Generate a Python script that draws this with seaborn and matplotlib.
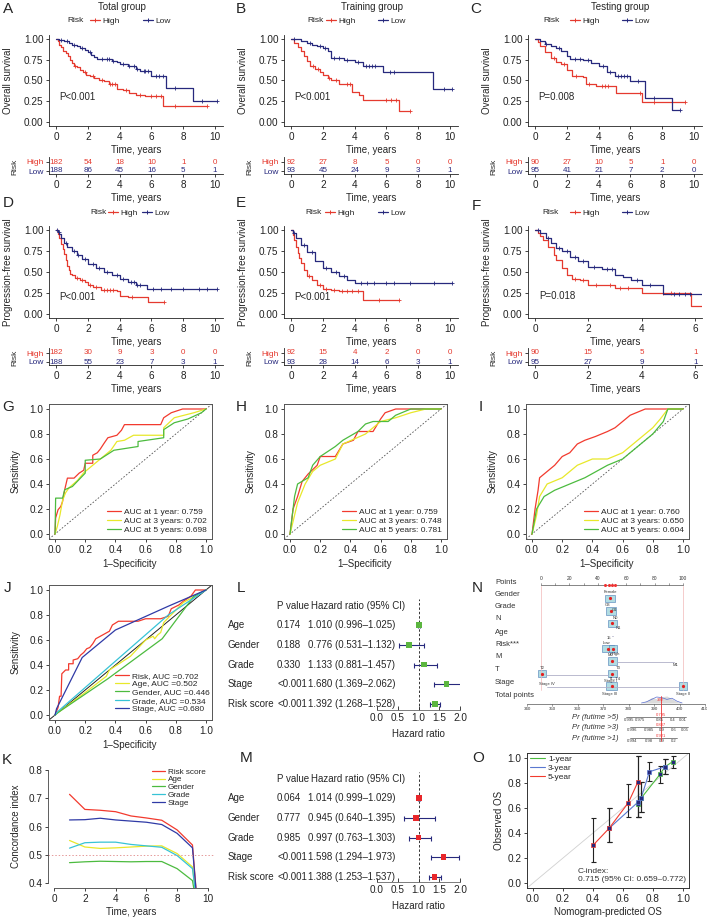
import numpy as np
import matplotlib
matplotlib.use("Agg")
import matplotlib.pyplot as plt
from matplotlib.lines import Line2D
from matplotlib.patches import Rectangle
import seaborn as sns

sns.set_theme(style="white")
plt.rcParams['font.family'] = ['Liberation Sans', 'DejaVu Sans']
plt.rcParams['axes.linewidth'] = 0.6

RED = "#e53a2f"
NAVY = "#27297d"
ROC_RED, ROC_YEL, ROC_GRN = "#f23a2e", "#e8e82a", "#4cbb3f"
CYAN, BLUE = "#37c3d6", "#2f3aa6"

# ---------------- survival curves (time, survival, censor times) ----------------
A_hi_t = [0, 0.1, 0.2, 0.3, 0.45, 0.6, 0.75, 0.9, 1.0, 1.15, 1.3, 1.5, 1.7, 1.9, 2.1, 2.4, 2.7, 3.0, 3.3, 3.8, 4.2, 4.6, 5.0, 5.6, 6.75, 9.5]
A_hi_s = [1.0, 0.97, 0.93, 0.90, 0.86, 0.83, 0.79, 0.75, 0.71, 0.68, 0.66, 0.63, 0.60, 0.57, 0.55, 0.53, 0.51, 0.49, 0.46, 0.40, 0.38, 0.35, 0.33, 0.31, 0.19, 0.19]
A_hi_c = [1.2, 1.8, 2.3, 2.9, 3.4, 3.5, 3.7, 4.4, 5.3, 6.0, 6.3, 6.6, 7.5, 9.5]
A_lo_t = [0, 0.2, 0.5, 0.8, 1.0, 1.3, 1.5, 1.8, 2.0, 2.2, 2.4, 2.6, 3.5, 3.8, 4.0, 4.5, 5.0, 5.3, 6.0, 6.9, 8.6, 10.1]
A_lo_s = [1.0, 0.99, 0.97, 0.95, 0.93, 0.91, 0.89, 0.87, 0.84, 0.81, 0.78, 0.76, 0.74, 0.72, 0.70, 0.67, 0.64, 0.62, 0.55, 0.41, 0.25, 0.25]
A_lo_c = [0.3, 0.7, 1.1, 1.6, 2.1, 2.9, 3.2, 3.3, 3.6, 4.2, 4.6, 4.9, 5.1, 5.5, 5.6, 5.8, 6.3, 6.5, 6.7, 7.5, 9.2, 10.1]

B_hi_t = [0, 0.2, 0.4, 0.6, 0.8, 1.0, 1.2, 1.5, 1.8, 2.0, 2.3, 2.5, 3.0, 3.8, 4.3, 4.5, 6.8, 7.5]
B_hi_s = [1.0, 0.95, 0.90, 0.85, 0.79, 0.74, 0.68, 0.64, 0.60, 0.57, 0.53, 0.50, 0.46, 0.36, 0.32, 0.26, 0.13, 0.13]
B_hi_c = [1.4, 1.7, 2.4, 2.8, 3.5, 3.7, 6.0, 6.3, 6.6, 7.5]
B_lo_t = [0, 0.6, 1.0, 1.3, 1.6, 2.0, 2.3, 2.5, 3.3, 4.0, 4.5, 5.8, 8.9, 10.1]
B_lo_s = [1.0, 0.98, 0.95, 0.93, 0.91, 0.89, 0.86, 0.77, 0.75, 0.72, 0.68, 0.60, 0.40, 0.40]
B_lo_c = [0.2, 1.2, 1.8, 2.1, 2.7, 3.0, 3.5, 4.2, 4.7, 4.9, 5.1, 5.3, 6.2, 6.5, 9.6, 10.1]

C_hi_t = [0, 0.15, 0.3, 0.6, 1.0, 1.3, 1.6, 2.0, 2.3, 3.0, 3.2, 3.8, 5.1, 6.7, 9.4]
C_hi_s = [1.0, 0.96, 0.91, 0.84, 0.77, 0.72, 0.70, 0.63, 0.56, 0.54, 0.46, 0.43, 0.35, 0.24, 0.24]
C_hi_c = [1.2, 1.8, 2.6, 3.4, 4.2, 4.4, 4.6, 6.6, 7.5, 9.4]
C_lo_t = [0, 0.3, 0.6, 1.0, 1.3, 1.6, 2.0, 2.2, 3.0, 3.5, 4.0, 4.5, 5.0, 6.0, 6.9, 8.6, 9.1]
C_lo_s = [1.0, 0.97, 0.94, 0.92, 0.89, 0.86, 0.80, 0.76, 0.75, 0.71, 0.67, 0.60, 0.56, 0.49, 0.29, 0.15, 0.15]
C_lo_c = [0.7, 1.5, 2.5, 2.8, 3.3, 4.3, 4.7, 5.2, 5.4, 5.6, 5.8, 6.5, 7.5, 9.1]

D_hi_t = [0, 0.1, 0.2, 0.3, 0.4, 0.5, 0.6, 0.7, 0.8, 0.9, 1.0, 1.2, 1.5, 1.8, 2.0, 2.3, 2.8, 3.8, 4.0, 4.5, 5.8, 6.8]
D_hi_s = [1.0, 0.95, 0.90, 0.83, 0.77, 0.71, 0.64, 0.57, 0.52, 0.48, 0.46, 0.43, 0.41, 0.38, 0.35, 0.32, 0.29, 0.27, 0.22, 0.20, 0.14, 0.14]
D_hi_c = [1.3, 1.6, 2.1, 2.5, 3.0, 3.2, 3.4, 3.6, 4.8, 6.8]
D_lo_t = [0, 0.1, 0.2, 0.3, 0.5, 0.7, 1.0, 1.3, 1.6, 2.0, 2.5, 3.0, 3.5, 4.0, 4.5, 5.0, 5.7, 10.1]
D_lo_s = [1.0, 0.98, 0.95, 0.90, 0.85, 0.80, 0.75, 0.70, 0.66, 0.60, 0.55, 0.50, 0.46, 0.42, 0.38, 0.34, 0.30, 0.30]
D_lo_c = [0.05, 0.15, 0.6, 1.1, 1.4, 1.8, 2.3, 2.7, 3.2, 3.8, 4.2, 4.7, 4.9, 5.1, 5.3, 6.1, 6.6, 7.2, 8.0, 9.0, 9.5, 10.1]

E_hi_t = [0, 0.1, 0.2, 0.3, 0.4, 0.5, 0.6, 0.8, 1.0, 1.3, 1.6, 2.0, 2.5, 3.0, 4.5, 6.8]
E_hi_s = [1.0, 0.94, 0.88, 0.80, 0.73, 0.67, 0.61, 0.52, 0.45, 0.40, 0.35, 0.30, 0.28, 0.27, 0.17, 0.17]
E_hi_c = [1.1, 1.8, 2.2, 2.7, 3.2, 3.5, 3.8, 4.2, 5.5, 6.8]
E_lo_t = [0, 0.1, 0.3, 0.6, 1.0, 1.5, 2.0, 2.5, 3.0, 3.5, 4.0, 10.1]
E_lo_s = [1.0, 0.97, 0.90, 0.82, 0.74, 0.63, 0.55, 0.50, 0.45, 0.40, 0.37, 0.37]
E_lo_c = [0.2, 0.8, 1.3, 2.2, 2.8, 3.3, 4.4, 4.8, 5.2, 6.0, 6.5, 7.5, 9.0, 10.1]

F_hi_t = [0, 0.1, 0.2, 0.3, 0.5, 0.7, 0.8, 1.0, 1.2, 1.4, 1.7, 2.0, 3.0, 4.0, 5.85, 6.3]
F_hi_s = [1.0, 0.97, 0.93, 0.88, 0.80, 0.70, 0.64, 0.55, 0.47, 0.42, 0.40, 0.35, 0.31, 0.25, 0.10, 0.10]
F_hi_c = [1.5, 1.8, 2.3, 2.8, 3.2, 3.5, 4.8, 5.1]
F_lo_t = [0, 0.2, 0.4, 0.6, 0.8, 1.0, 1.3, 1.6, 2.0, 2.5, 3.0, 3.3, 3.6, 4.0, 4.8, 6.3]
F_lo_s = [1.0, 0.97, 0.90, 0.85, 0.79, 0.75, 0.68, 0.63, 0.56, 0.53, 0.47, 0.44, 0.40, 0.34, 0.24, 0.24]
F_lo_c = [0.1, 0.5, 0.9, 1.2, 1.5, 1.8, 2.2, 2.7, 2.9, 3.8, 4.3, 5.2, 5.4, 5.6, 5.8]

# numbers at risk
risk_times_10 = [0, 2, 4, 6, 8, 10]
risk_times_6 = [0, 2, 4, 6]
A_risk_hi, A_risk_lo = [182, 54, 18, 10, 1, 0], [188, 86, 45, 16, 5, 1]
B_risk_hi, B_risk_lo = [92, 27, 8, 5, 0, 0], [93, 45, 24, 9, 3, 1]
C_risk_hi, C_risk_lo = [90, 27, 10, 5, 1, 0], [95, 41, 21, 7, 2, 0]
D_risk_hi, D_risk_lo = [182, 30, 9, 3, 0, 0], [188, 55, 23, 7, 3, 1]
E_risk_hi, E_risk_lo = [92, 15, 4, 2, 0, 0], [93, 28, 14, 6, 3, 1]
F_risk_hi, F_risk_lo = [90, 15, 5, 1], [95, 27, 9, 1]

# ---------------- time-dependent ROC ----------------
G_1y_x = [0, 0.004, 0.02, 0.038, 0.05, 0.064, 0.082, 0.126, 0.16, 0.19, 0.2, 0.25, 0.25, 0.28, 0.3, 0.325, 0.35, 0.41, 0.44, 0.46, 0.70, 0.72, 0.77, 0.845, 1.0]
G_1y_y = [0, 0.128, 0.194, 0.22, 0.26, 0.354, 0.447, 0.447, 0.487, 0.51, 0.566, 0.566, 0.63, 0.65, 0.68, 0.726, 0.77, 0.79, 0.83, 0.875, 0.875, 0.93, 0.97, 1.0, 1.0]
G_3y_x = [0, 0.015, 0.033, 0.05, 0.07, 0.093, 0.15, 0.19, 0.24, 0.3, 0.37, 0.41, 0.46, 0.52, 0.72, 0.72, 0.79, 0.92, 1.0]
G_3y_y = [0, 0.06, 0.154, 0.27, 0.33, 0.37, 0.43, 0.49, 0.54, 0.6, 0.67, 0.74, 0.75, 0.79, 0.79, 0.85, 0.93, 0.97, 1.0]
G_5y_x = [0, 0.004, 0.05, 0.064, 0.115, 0.2, 0.2, 0.3, 0.39, 0.55, 0.55, 0.72, 0.72, 0.79, 0.88, 0.97, 1.0]
G_5y_y = [0, 0.287, 0.287, 0.354, 0.38, 0.487, 0.59, 0.6, 0.67, 0.70, 0.74, 0.77, 0.835, 0.89, 0.92, 0.97, 1.0]

H_1y_x = [0, 0.01, 0.02, 0.05, 0.08, 0.12, 0.18, 0.2, 0.3, 0.33, 0.35, 0.42, 0.45, 0.55, 0.6, 0.63, 0.7, 1.0]
H_1y_y = [0, 0.1, 0.2, 0.3, 0.42, 0.48, 0.55, 0.62, 0.62, 0.68, 0.72, 0.75, 0.82, 0.82, 0.92, 0.97, 1.0, 1.0]
H_3y_x = [0, 0.03, 0.05, 0.1, 0.15, 0.2, 0.3, 0.35, 0.5, 0.6, 0.7, 0.8, 0.9, 1.0]
H_3y_y = [0, 0.15, 0.25, 0.4, 0.5, 0.55, 0.6, 0.72, 0.8, 0.9, 0.93, 0.97, 1.0, 1.0]
H_5y_x = [0, 0.02, 0.03, 0.05, 0.12, 0.15, 0.2, 0.3, 0.35, 0.45, 0.5, 0.55, 0.65, 0.7, 0.8, 1.0]
H_5y_y = [0, 0.2, 0.3, 0.4, 0.45, 0.55, 0.62, 0.7, 0.75, 0.82, 0.88, 0.9, 0.9, 0.95, 1.0, 1.0]

I_1y_x = [0, 0.02, 0.04, 0.05, 0.1, 0.15, 0.2, 0.25, 0.3, 0.35, 0.42, 0.5, 0.55, 0.6, 0.65, 0.75, 1.0]
I_1y_y = [0, 0.2, 0.35, 0.45, 0.5, 0.55, 0.62, 0.65, 0.72, 0.75, 0.78, 0.82, 0.85, 0.9, 0.95, 1.0, 1.0]
I_3y_x = [0, 0.03, 0.05, 0.1, 0.2, 0.3, 0.4, 0.5, 0.6, 0.7, 0.8, 0.85, 0.9, 1.0]
I_3y_y = [0, 0.15, 0.3, 0.4, 0.45, 0.55, 0.6, 0.6, 0.65, 0.75, 0.85, 0.92, 1.0, 1.0]
I_5y_x = [0, 0.03, 0.08, 0.15, 0.25, 0.35, 0.5, 0.6, 0.7, 0.8, 0.87, 0.9, 1.0]
I_5y_y = [0, 0.2, 0.3, 0.35, 0.4, 0.45, 0.55, 0.6, 0.7, 0.8, 0.9, 1.0, 1.0]

G_auc = ["0.759", "0.702", "0.698"]
H_auc = ["0.759", "0.748", "0.781"]
I_auc = ["0.760", "0.650", "0.604"]

# ---------------- J: ROC of clinical features ----------------
J_risk_x = [0, 0.01, 0.02, 0.03, 0.04, 0.045, 0.07, 0.09, 0.09, 0.12, 0.12, 0.15, 0.17, 0.19, 0.21, 0.23, 0.25, 0.27, 0.30, 0.33, 0.36, 0.38, 0.42, 0.55, 0.60, 0.70, 0.75, 0.77, 0.82, 0.85, 0.90, 0.93, 1.0]
J_risk_y = [0, 0.03, 0.06, 0.15, 0.15, 0.33, 0.36, 0.36, 0.41, 0.41, 0.44, 0.45, 0.48, 0.50, 0.53, 0.54, 0.57, 0.61, 0.63, 0.65, 0.67, 0.72, 0.75, 0.75, 0.77, 0.77, 0.79, 0.85, 0.88, 0.91, 0.95, 1.0, 1.0]
J_age_x = [0, 0.02, 0.2, 0.34, 0.36, 0.5, 0.6, 0.65, 0.66, 0.68, 0.70, 0.72, 0.85, 1.0]
J_age_y = [0, 0.02, 0.18, 0.31, 0.36, 0.47, 0.60, 0.63, 0.61, 0.64, 0.66, 0.74, 0.90, 1.0]
J_gender_x = [0, 0.02, 0.35, 0.71, 0.92, 1.0]
J_gender_y = [0, 0.02, 0.29, 0.61, 0.95, 1.0]
J_grade_x = [0, 0.02, 0.75, 1.0]
J_grade_y = [0, 0.03, 0.80, 1.0]
J_stage_x = [0, 0.01, 0.18, 0.40, 0.75, 1.0]
J_stage_y = [0, 0.05, 0.46, 0.68, 0.87, 1.0]
J_labels = ["Risk, AUC =0.702", "Age, AUC =0.502", "Gender, AUC =0.446",
            "Grade, AUC =0.534", "Stage, AUC =0.680"]

# ---------------- K: C-index over time ----------------
K_time = [1, 2, 3, 4, 5, 6, 7, 8, 9, 9.35]
K_risk = [0.713, 0.660, 0.657, 0.652, 0.637, 0.630, 0.622, 0.588, 0.535, 0.30]
K_age = [0.551, 0.528, 0.523, 0.525, 0.528, 0.531, 0.532, 0.505, 0.458, 0.30]
K_gender = [0.473, 0.476, 0.478, 0.477, 0.476, 0.477, 0.477, 0.452, 0.410, 0.30]
K_grade = [0.524, 0.543, 0.545, 0.545, 0.537, 0.532, 0.527, 0.498, 0.452, 0.30]
K_stage = [0.623, 0.624, 0.629, 0.623, 0.619, 0.615, 0.607, 0.576, 0.525, 0.30]
K_names = ["Risk score", "Age", "Gender", "Grade", "Stage"]

# ---------------- L / M: Cox regression ----------------
cox_vars = ["Age", "Gender", "Grade", "Stage", "Risk score"]
L_p = ["0.174", "0.188", "0.330", "<0.001", "<0.001"]
L_hr = [1.010, 0.776, 1.133, 1.680, 1.392]
L_lo = [0.996, 0.531, 0.881, 1.369, 1.268]
L_hi = [1.025, 1.132, 1.457, 2.062, 1.528]
M_p = ["0.064", "0.777", "0.985", "<0.001", "<0.001"]
M_hr = [1.014, 0.945, 0.997, 1.598, 1.388]
M_lo = [0.999, 0.640, 0.763, 1.294, 1.253]
M_hi = [1.029, 1.395, 1.303, 1.973, 1.537]

# ---------------- N: nomogram ----------------
nomo_rows = ["Points", "Gender", "Grade", "N", "Age", "Risk***", "M", "T", "Stage", "Total points"]
nomo_box_row = [1, 2, 3, 5, 5, 6, 7, 7, 8, 8]
nomo_box_lo = [45, 46, 47, 43, 48, 47, -2, 47, 46, 97.5]
nomo_box_hi = [52, 53, 53.5, 51.5, 53.5, 53.5, 3.5, 53.5, 53.5, 103]
nomo_dot = [48.5, 49.5, 50, 47, 51, 50, 1, 50, 50, 100]
nomo_seg_row = [4.3, 6.4, 7.4, 8.4]
nomo_seg_lo = [50, 53.5, 3.5, 4]
nomo_seg_hi = [50.5, 93.5, 47, 97.5]
nomo_tot_ticks = [340, 350, 360, 370, 380, 390, 400, 410]
nomo_pr5_pos = [380, 384.5, 392.4, 397.1, 401.4]
nomo_pr5_lab = ["0.995", "0.975", "0.85", "0.4", "0.01"]
nomo_pr3_pos = [381.5, 387.8, 392.8, 397.5, 402.2]
nomo_pr3_lab = ["0.996", "0.985", "0.9", "0.6", "0.05"]
nomo_pr1_pos = [381.5, 387.8, 392.8, 397.8]
nomo_pr1_lab = ["0.994", "0.98", "0.9", "0.2"]
nomo_pred = ["0.795", "0.887", "0.921"]
nomo_total = 392.5
nomo_dens_x = [385, 387, 389, 391, 393, 395, 397, 399, 401]
nomo_dens_y = [0.0, 0.3, 0.8, 0.6, 0.9, 1.0, 0.6, 0.2, 0.0]

# ---------------- O: calibration ----------------
O_1y_x = [0.698, 0.72, 0.847, 0.88, 0.93]
O_1y_y = [0.63, 0.677, 0.87, 0.93, 0.97]
O_1y_lo = [0.53, 0.566, 0.80, 0.87, 0.92]
O_1y_hi = [0.80, 0.81, 0.94, 0.99, 1.02]
O_3y_x = [0.507, 0.698, 0.72, 0.776, 0.88]
O_3y_y = [0.437, 0.645, 0.677, 0.89, 0.93]
O_3y_lo = [0.325, 0.53, 0.566, 0.82, 0.87]
O_3y_hi = [0.60, 1.02, 0.81, 0.97, 0.99]
O_5y_x = [0.402, 0.507, 0.636, 0.698]
O_5y_y = [0.304, 0.437, 0.643, 0.805]
O_5y_lo = [0.17, 0.325, 0.525, 0.53]
O_5y_hi = [0.517, 0.60, 0.79, 1.02]

W, H = 707, 921
fig = plt.figure(figsize=(W / 100, H / 100), dpi=100)


def axes_px(l, t, r, b):
    return fig.add_axes([l / W, 1 - b / H, (r - l) / W, (b - t) / H])


def ftext(x, y, s, **kw):
    kw.setdefault("va", "center")
    kw.setdefault("ha", "center")
    kw.setdefault("fontsize", 7)
    fig.text(x / W, 1 - y / H, s, **kw)


def ticks(ax, **kw):
    ax.tick_params(direction="out", length=2.5, width=0.6, pad=1.5,
                   labelsize=7.2, bottom=True, left=True, colors="#222222", **kw)


ROW1 = dict(one=39, zero=122, tick=138, xlab=150, hi=162, lo=171, tick2=184, xlab2=198, leg=21)
ROW2 = dict(one=230, zero=314, tick=329, xlab=342, hi=353, lo=362, tick2=377, xlab2=389, leg=213)


def km_panel(left, row, xlim, xt, hi, lo, rtimes, rhi, rlo, pval, py, ylab, leg):
    unit = row["zero"] - row["one"]
    ax = axes_px(left, row["one"] - 0.05 * unit, left + 174, row["zero"] + 0.05 * unit)
    for (t, s, c), col in ((hi, RED), (lo, NAVY)):
        sns.lineplot(x=t, y=s, ax=ax, color=col, lw=0.9, drawstyle="steps-post",
                     estimator=None, sort=False)
        idx = np.searchsorted(t, c, side="right") - 1
        cy = np.asarray(s)[idx]
        ax.plot(c, cy, ls="none", marker="+", ms=3, mew=0.6, color=col)
    ax.set_xlim(*xlim)
    ax.set_ylim(-0.05, 1.05)
    ax.set_yticks([0, 0.25, 0.5, 0.75, 1.0])
    ax.set_yticklabels(["0.00", "0.25", "0.50", "0.75", "1.00"])
    ax.set_xticks(xt)
    ax.set_xlabel("")
    ax.set_ylabel("")
    for sp in ("top", "right"):
        ax.spines[sp].set_visible(False)
    for sp in ("left", "bottom"):
        ax.spines[sp].set_color("#222222")
    ticks(ax)
    ax.text(xlim[0] + 0.055 * (xlim[1] - xlim[0]) + 0.05, py, pval, fontsize=7, va="center")
    ftext(left + 87, row["xlab"], "Time, years")
    ftext(left - 41, (row["one"] + row["zero"]) / 2, ylab, rotation=90)
    # risk table
    tu = row["lo"] - row["hi"]
    tab = axes_px(left, row["hi"] - 5, left + 174, row["lo"] + 3)
    tab.set_xlim(*xlim)
    tab.set_ylim(-3 / tu, 1 + 5 / tu)
    for tt, a, b in zip(rtimes, rhi, rlo):
        tab.text(tt, 1, str(a), color=RED, fontsize=5.8, ha="center", va="center")
        tab.text(tt, 0, str(b), color=NAVY, fontsize=5.8, ha="center", va="center")
    tab.set_yticks([1, 0])
    tab.set_yticklabels(["High", "Low"])
    tab.set_xticks(xt)
    for sp in ("top", "right"):
        tab.spines[sp].set_visible(False)
    for sp in ("left", "bottom"):
        tab.spines[sp].set_color("#222222")
    ticks(tab)
    tab.tick_params(axis="y", labelsize=6)
    for lab, c in zip(tab.get_yticklabels(), (RED, NAVY)):
        lab.set_color(c)
    ftext(left - 34, (row["hi"] + row["lo"]) / 2, "Risk", rotation=90, fontsize=6)
    ftext(left + 87, row["xlab2"], "Time, years")
    # legend
    risk_x, hi_x, lo_x = leg
    ftext(risk_x, row["leg"], "Risk", ha="left", fontsize=6)
    for x, col, lab in ((hi_x, RED, "High"), (lo_x, NAVY, "Low")):
        h = Line2D([], [], color=col, lw=0.9, marker="+", ms=3.5, mew=0.7)
        fig.legend(handles=[h], labels=[lab], loc="center left",
                   bbox_to_anchor=(x / W, 1 - row["leg"] / H), frameon=False, fontsize=6,
                   handlelength=1.2, handletextpad=0.3, borderpad=0, borderaxespad=0)
    return ax


cols = [49, 284, 528]
km_panel(cols[0], ROW1, (-0.45, 10.5), risk_times_10, (A_hi_t, A_hi_s, A_hi_c), (A_lo_t, A_lo_s, A_lo_c),
         risk_times_10, A_risk_hi, A_risk_lo, "P<0.001", 0.30, "Overall survival", (67, 90, 143))
km_panel(cols[1], ROW1, (-0.45, 10.5), risk_times_10, (B_hi_t, B_hi_s, B_hi_c), (B_lo_t, B_lo_s, B_lo_c),
         risk_times_10, B_risk_hi, B_risk_lo, "P<0.001", 0.30, "Overall survival", (307, 326, 378))
km_panel(cols[2], ROW1, (-0.45, 10.5), risk_times_10, (C_hi_t, C_hi_s, C_hi_c), (C_lo_t, C_lo_s, C_lo_c),
         risk_times_10, C_risk_hi, C_risk_lo, "P=0.008", 0.30, "Overall survival", (543, 570, 622))
km_panel(cols[0], ROW2, (-0.45, 10.5), risk_times_10, (D_hi_t, D_hi_s, D_hi_c), (D_lo_t, D_lo_s, D_lo_c),
         risk_times_10, D_risk_hi, D_risk_lo, "P<0.001", 0.20, "Progression-free survival", (90, 108, 142))
km_panel(cols[1], ROW2, (-0.45, 10.5), risk_times_10, (E_hi_t, E_hi_s, E_hi_c), (E_lo_t, E_lo_s, E_lo_c),
         risk_times_10, E_risk_hi, E_risk_lo, "P<0.001", 0.20, "Progression-free survival", (305, 325, 378))
km_panel(cols[2], ROW2, (-0.26, 6.25), risk_times_6, (F_hi_t, F_hi_s, F_hi_c), (F_lo_t, F_lo_s, F_lo_c),
         risk_times_6, F_risk_hi, F_risk_lo, "P=0.018", 0.21, "Progression-free survival", (542, 570, 622))

ftext(122, 7, "Total group")
ftext(372, 7, "Training group")
ftext(620, 7, "Testing group")


# ---------------- ROC panels ----------------
def roc_frame(left, top, bottom):
    ax = axes_px(left, top, left + 163, bottom)
    ax.set_xlim(-0.04, 1.04)
    ax.set_ylim(-0.04, 1.04)
    ax.set_xticks(np.arange(0, 1.01, 0.2))
    ax.set_yticks(np.arange(0, 1.01, 0.2))
    ax.set_xticklabels([f"{v:.1f}" for v in np.arange(0, 1.01, 0.2)])
    ax.set_yticklabels([f"{v:.1f}" for v in np.arange(0, 1.01, 0.2)])
    for sp in ax.spines.values():
        sp.set_color("#555555")
        sp.set_linewidth(0.7)
    ticks(ax)
    ftext(left + 81, bottom + 25, "1\u2013Specificity")
    ftext(left - 33, (top + bottom) / 2, "Sensitivity", rotation=90)
    return ax


roc_cols = [49, 284, 526]
roc_sets = [
    ((G_1y_x, G_1y_y), (G_3y_x, G_3y_y), (G_5y_x, G_5y_y), G_auc),
    ((H_1y_x, H_1y_y), (H_3y_x, H_3y_y), (H_5y_x, H_5y_y), H_auc),
    ((I_1y_x, I_1y_y), (I_3y_x, I_3y_y), (I_5y_x, I_5y_y), I_auc),
]
for left, (c1, c3, c5, aucs) in zip(roc_cols, roc_sets):
    ax = roc_frame(left, 404, 539)
    ax.axline((0, 0), slope=1, color="#555555", lw=0.6, ls=(0, (2, 2)))
    handles = []
    labs = [f"AUC at 1 year: {aucs[0]}", f"AUC at 3 years: {aucs[1]}", f"AUC at 5 years: {aucs[2]}"]
    for (x, y), col in zip((c1, c3, c5), (ROC_RED, ROC_YEL, ROC_GRN)):
        sns.lineplot(x=x, y=y, ax=ax, color=col, lw=0.9, sort=False, estimator=None)
        handles.append(Line2D([], [], color=col, lw=0.9))
    fig.legend(handles=handles, labels=labs, loc="upper left",
               bbox_to_anchor=((left + 58) / W, 1 - 508 / H), frameon=False, fontsize=6,
               handlelength=1.7, handletextpad=0.3, labelspacing=0.14, borderpad=0, borderaxespad=0)

# J
axJ = roc_frame(49, 585, 720)
axJ.axline((0, 0), slope=1, color="#222222", lw=0.7)
j_curves = [(J_risk_x, J_risk_y, ROC_RED), (J_age_x, J_age_y, ROC_YEL), (J_gender_x, J_gender_y, ROC_GRN),
            (J_grade_x, J_grade_y, CYAN), (J_stage_x, J_stage_y, BLUE)]
for x, y, col in j_curves:
    sns.lineplot(x=x, y=y, ax=axJ, color=col, lw=0.9, sort=False, estimator=None)
fig.legend(handles=[Line2D([], [], color=c, lw=0.9) for _, _, c in j_curves], labels=J_labels,
           loc="upper left", bbox_to_anchor=(115 / W, 1 - 672 / H), frameon=False, fontsize=6,
           handlelength=1.7, handletextpad=0.3, labelspacing=0.05, borderpad=0, borderaxespad=0)

# K
axK = axes_px(48, 765, 214, 888)
k_curves = [(K_risk, ROC_RED), (K_age, ROC_YEL), (K_gender, ROC_GRN), (K_grade, CYAN), (K_stage, BLUE)]
for y, col in k_curves:
    sns.lineplot(x=K_time, y=y, ax=axK, color=col, lw=0.9, sort=False, estimator=None)
axK.axhline(0.5, color="#e59a9a", lw=0.7, ls=(0, (1.5, 2)))
axK.set_xlim(-0.4, 10.4)
axK.set_ylim(0.384, 0.816)
axK.set_xticks([0, 2, 4, 6, 8, 10])
axK.set_yticks([0.4, 0.5, 0.6, 0.7, 0.8])
axK.set_yticklabels(["0.4", "0.5", "0.6", "0.7", "0.8"])
for sp in ("top", "right"):
    axK.spines[sp].set_visible(False)
axK.spines["left"].set_bounds(0.4, 0.8)
axK.spines["bottom"].set_bounds(0, 10)
for sp in ("left", "bottom"):
    axK.spines[sp].set_color("#444444")
ticks(axK)
ftext(131, 912, "Time, years")
ftext(16, 826, "Concordance index", rotation=90)
fig.legend(handles=[Line2D([], [], color=c, lw=0.9) for _, c in k_curves], labels=K_names,
           loc="upper left", bbox_to_anchor=(152 / W, 1 - 768 / H), frameon=False, fontsize=5.9,
           handlelength=1.6, handletextpad=0.35, labelspacing=0.0, borderpad=0, borderaxespad=0)


# ---------------- L / M forest plots ----------------
def forest(age_y, axis_y, p, hr, lo, hi, col):
    step = 19.75
    ax = axes_px(371, age_y - 26, 462, axis_y)
    ypos = [5, 4, 3, 2, 1]
    ax.set_xlim(-6 / 41.5, 2 + 2 / 41.5)
    ax.set_ylim(1 - (axis_y - (age_y + 4 * step)) / step, 5 + 26 / step)
    ax.axvline(1.0, color="#333333", lw=0.7, ls=(0, (2.5, 2)))
    ax.errorbar(hr, ypos, xerr=[np.subtract(hr, lo), np.subtract(hi, hr)], fmt="none",
                ecolor=NAVY, elinewidth=0.8, capsize=1.8, capthick=0.8)
    sns.scatterplot(x=hr, y=ypos, ax=ax, marker="s", s=16, color=col, edgecolor="none", zorder=5)
    ax.set_xticks([0, 0.5, 1.0, 1.5, 2.0])
    ax.set_xticklabels(["0.0", "0.5", "1.0", "1.5", "2.0"])
    ax.set_yticks([])
    ax.set_xlabel("")
    ax.set_ylabel("")
    for sp in ("top", "right", "left"):
        ax.spines[sp].set_visible(False)
    ax.spines["bottom"].set_bounds(0, 2)
    ax.spines["bottom"].set_color("#666666")
    ax.tick_params(axis="x", direction="in", length=3, width=0.6, pad=2, labelsize=7.2,
                   bottom=True, colors="#222222")
    ax.patch.set_alpha(0)
    ftext(277, age_y - 19, "P value", ha="left")
    ftext(311, age_y - 19, "Hazard ratio (95% CI)", ha="left")
    for i, name in enumerate(cox_vars):
        y = age_y + i * step
        ftext(228, y, name, ha="left")
        ftext(277, y, p[i], ha="left")
        ftext(308, y, f"{hr[i]:.3f} ({lo[i]:.3f}\u2013{hi[i]:.3f})", ha="left")
    ftext(418, axis_y + 24, "Hazard ratio")


forest(625, 710, L_p, L_hr, L_lo, L_hi, "#5bb53f")
forest(798, 882, M_p, M_hr, M_lo, M_hi, "#e8262a")

# ---------------- N nomogram ----------------
axN = axes_px(460, 572, 707, 700)
axN.set_facecolor("white")
axN.set_xlim((460 - 541) / 1.42, (707 - 541) / 1.42)
row_px = [582, 595, 607, 619, 632, 644, 657, 669, 682, 695]
axN.set_ylim((700 - 582) / 12.55, (572 - 582) / 12.55)
for sp in axN.spines.values():
    sp.set_visible(False)
axN.set_xticks([])
axN.set_yticks([])
for x in (0, 100):
    axN.plot([x, x], [0.3, 8.6], color="#f2b8b8", lw=0.5)
axN.plot([0, 100], [0.25, 0.25], color="#555555", lw=0.5)
for v in range(0, 101, 10):
    axN.plot([v, v], [0.25, 0.05], color="#555555", lw=0.4)
    if v % 20 == 0:
        axN.text(v, -0.25, str(v), fontsize=3.5, ha="center", va="center", color="#333333")
axN.plot([45, 48, 50, 52], [0.25, 0.25, 0.25, 0.25], ls="none", marker="o", ms=1.2, color="#e33")
for r, a, b in zip(nomo_seg_row, nomo_seg_lo, nomo_seg_hi):
    axN.plot([a, b], [r, r], color="#b0b0c8", lw=0.6)
for r, a, b, d in zip(nomo_box_row, nomo_box_lo, nomo_box_hi, nomo_dot):
    axN.add_patch(Rectangle((a, r), b - a, 0.6, facecolor="#a9d9df", edgecolor="#3a6fb0",
                            lw=0.4, alpha=0.9))
    axN.plot([d], [r + 0.3], ls="none", marker="o", ms=1.3, color="#e32020")
small = [("Female", 49, 0.8), ("G3", 47, 1.85), ("G1", 52, 2.25), ("N0", 52, 2.85), ("N1", 54.5, 3.7),
         ("15", 48, 4.5), ("Low", 46, 4.85), ("High", 53, 5.75), ("M0", 49, 5.85), ("M1", 95, 6.65),
         ("T2", 0.7, 6.85), ("T3", 54.5, 6.85), ("T1\u2013T4", 52, 7.7), ("Stage IV", 4, 8.1),
         ("Stage I", 49, 7.9), ("Stage III", 48, 8.9), ("Stage II", 100, 8.9)]
for s, x, y in small:
    axN.text(x, y, s, fontsize=3.0, ha="center", va="center", color="#333333")
for name, y in zip(nomo_rows, row_px):
    ftext(495, y, name, ha="left", fontsize=5.5, color="#333333")

axT = axes_px(460, 682, 707, 745)
axT.patch.set_alpha(0)
axT.set_xlim(340 - 67 / 2.54, 410 + 2 / 2.54)
axT.set_ylim(745, 682)
for sp in axT.spines.values():
    sp.set_visible(False)
axT.set_xticks([])
axT.set_yticks([])
axT.fill_between(nomo_dens_x, 703, 703 - np.array(nomo_dens_y) * 7, color="#cccccc", alpha=0.7, lw=0)
axT.plot(nomo_dens_x, 703 - np.array(nomo_dens_y[::-1]) * 6, color="#5a6fd0", lw=0.5)
axT.plot([340, 410], [704, 704], color="#555555", lw=0.5)
for v in nomo_tot_ticks:
    axT.plot([v, v], [704, 706], color="#555555", lw=0.4)
    axT.text(v, 709, str(v), fontsize=3.2, ha="center", va="center", color="#333333")
axT.text(nomo_total, 700, "392", fontsize=3.0, ha="center", va="center", color="#e33")
for ypx, pos, labs, pred, name in ((717, nomo_pr5_pos, nomo_pr5_lab, nomo_pred[0], "Pr (futime >5)"),
                                    (727, nomo_pr3_pos, nomo_pr3_lab, nomo_pred[1], "Pr (futime >3)"),
                                    (738, nomo_pr1_pos, nomo_pr1_lab, nomo_pred[2], "Pr (futime >1)")):
    axT.plot([pos[0] - 1, pos[-1] + 1], [ypx, ypx], color="#555555", lw=0.5)
    for v, s in zip(pos, labs):
        axT.text(v, ypx + 2.5, s, fontsize=3.0, ha="center", va="center", color="#333333")
    axT.text(nomo_total, ypx - 2.5, pred, fontsize=3.0, ha="center", va="center", color="#e33")
    ftext(619, ypx, name, ha="right", fontsize=5.5, style="italic", color="#333333")
axT.plot([nomo_total, nomo_total], [696, 741], color="#e33", lw=0.6)

# ---------------- O calibration ----------------
axO = axes_px(527, 753, 689, 888)
axO.axline((0, 0), slope=1, color="#d0d0d0", lw=0.6)
o_sets = [(O_1y_x, O_1y_y, O_1y_lo, O_1y_hi, ROC_GRN), (O_3y_x, O_3y_y, O_3y_lo, O_3y_hi, "#5a78d0"),
          (O_5y_x, O_5y_y, O_5y_lo, O_5y_hi, ROC_RED)]
for x, y, lo, hi, col in o_sets:
    sns.lineplot(x=x, y=y, ax=axO, color=col, lw=0.8, sort=False, estimator=None)
    axO.errorbar(x, y, yerr=[np.subtract(y, lo), np.subtract(hi, y)], fmt="none", ecolor="#222222",
                 elinewidth=0.8, capsize=1.8, capthick=0.8)
    sns.scatterplot(x=x, y=y, ax=axO, marker="s", s=6, color=NAVY, edgecolor=col, linewidth=0.5, zorder=5)
axO.set_xlim(-0.04, 1.04)
axO.set_ylim(-0.04, 1.04)
axO.set_xticks(np.arange(0, 1.01, 0.2))
axO.set_yticks(np.arange(0, 1.01, 0.2))
axO.set_xticklabels([f"{v:.1f}" for v in np.arange(0, 1.01, 0.2)])
axO.set_yticklabels([f"{v:.1f}" for v in np.arange(0, 1.01, 0.2)])
for sp in axO.spines.values():
    sp.set_color("#333333")
    sp.set_linewidth(0.7)
ticks(axO)
axO.text(0.30, 0.096, "C-index:", fontsize=6, color="#333333", va="center")
axO.text(0.30, 0.03, "0.715 (95% CI: 0.659\u20130.772)", fontsize=6, color="#333333", va="center")
ftext(608, 912, "Nomogram-predicted OS")
ftext(499, 820, "Observed OS", rotation=90)
fig.legend(handles=[Line2D([], [], color=c, lw=0.8) for *_, c in o_sets], labels=["1-year", "3-year", "5-year"],
           loc="upper left", bbox_to_anchor=(530 / W, 1 - 755 / H), frameon=False, fontsize=6,
           handlelength=1.8, handletextpad=0.35, labelspacing=0.14, borderpad=0, borderaxespad=0)

# panel letters
for s, x, y in (("A", 8, 9), ("B", 241, 9), ("C", 476, 9), ("D", 8, 203), ("E", 241, 203), ("F", 476, 206),
                ("G", 8, 407), ("H", 241, 407), ("I", 481, 407), ("J", 8, 588), ("L", 241, 588),
                ("N", 477, 588), ("K", 7, 760), ("M", 246, 758), ("O", 478, 758)):
    ftext(x, y, s, fontsize=11)

fig.savefig("out.png", dpi=100)
